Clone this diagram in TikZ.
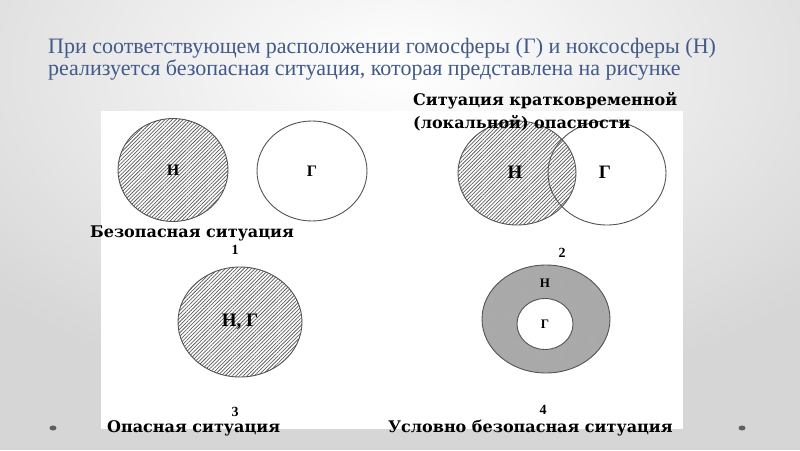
\documentclass[tikz,border=0pt]{standalone}
\usepackage{fontspec}
\setmainfont{Liberation Serif}
\newfontfamily\capfont{DejaVu Serif}
\usetikzlibrary{shapes.geometric,patterns.meta}

\definecolor{titleblue}{RGB}{66,90,138}
\definecolor{slidegray}{RGB}{214,214,214}
\definecolor{slidedot}{RGB}{95,95,95}
\definecolor{ringgray}{RGB}{172,172,172}

\tikzset{
  sphere/.style={ellipse, draw=gray!65!black, line width=0.9pt, inner sep=0pt},
  hatched/.style={pattern={Lines[angle=45,distance=2.6pt,line width=0.75pt]},
    pattern color=gray!75!black},
  dotted ring/.style={preaction={fill=ringgray},
    pattern={Lines[angle=45,distance=1.5pt,line width=0.3pt]}, pattern color=gray!70},
  title/.style={font=\fontsize{22}{22}\selectfont, text=titleblue, inner sep=0pt, anchor=base west},
  caption/.style={font=\capfont\bfseries\fontsize{16}{16}\selectfont, inner sep=0pt, anchor=base west},
  figno/.style={font=\bfseries\fontsize{14}{14}\selectfont, inner sep=0pt, anchor=base},
  letter/.style={font=\bfseries\fontsize{16}{16}\selectfont},
  big letter/.style={font=\bfseries\fontsize{19}{19}\selectfont},
  small letter/.style={font=\bfseries\fontsize{13}{13}\selectfont}
}

\begin{document}
\begin{tikzpicture}[x=1pt,y=-1pt]
  \useasboundingbox (0,0) rectangle (800,450);
  % slide background
  \fill[slidegray] (0,0) rectangle (800,450);
  \shade[inner color=white, outer color=slidegray] (400,70) ellipse (560 and 330);
  \fill[slidedot] (53,428) ellipse (3.5 and 2.5);
  \fill[slidedot] (742,428) ellipse (3.5 and 2.5);

  % title
  \node[title] (title1) at (48,53) {При соответствующем расположении гомосферы (Г) и ноксосферы (Н)};
  \node[title] (title2) at (48,75) {реализуется безопасная ситуация, которая представлена на рисунке};

  % picture panel
  \fill[white] (101,111) rectangle (683,429);

  % 1
  \node[sphere, hatched, letter, minimum width=110pt, minimum height=103pt] (n1) at (173,170) {Н};
  \node[sphere, letter, minimum width=110pt, minimum height=100pt] (g1) at (312,171) {Г};
  \node[caption] (cap1) at (90,237) {Безопасная ситуация};
  \node[figno] (no1) at (235,254) {1};

  % 2
  \node[sphere, hatched, minimum width=118pt, minimum height=104pt] (n2) at (517,173) {};
  \node[sphere, minimum width=118pt, minimum height=104pt] (g2) at (607,173) {};
  \node[big letter] (n2l) at (515,172) {Н};
  \node[big letter] (g2l) at (605,172) {Г};
  \node[caption] (cap2a) at (413,105) {Ситуация кратковременной};
  \node[caption] (cap2b) at (413,128) {(локальной) опасности};
  \node[figno] (no2) at (562,257) {2};

  % 3
  \node[sphere, hatched, big letter, minimum width=124pt, minimum height=110pt] (ng3) at (240,322) {Н, Г};
  \node[figno] (no3) at (235,416) {3};
  \node[caption] (cap3) at (107,432) {Опасная ситуация};

  % 4
  \node[sphere, dotted ring, minimum width=128pt, minimum height=108pt] (n4) at (546,319) {};
  \node[sphere, fill=white, small letter, minimum width=56pt, minimum height=51pt] (g4) at (545,324) {Г};
  \node[small letter] (n4l) at (545,283) {Н};
  \node[figno] (no4) at (543,414) {4};
  \node[caption] (cap4) at (388,432) {Условно безопасная ситуация};
\end{tikzpicture}
\end{document}
